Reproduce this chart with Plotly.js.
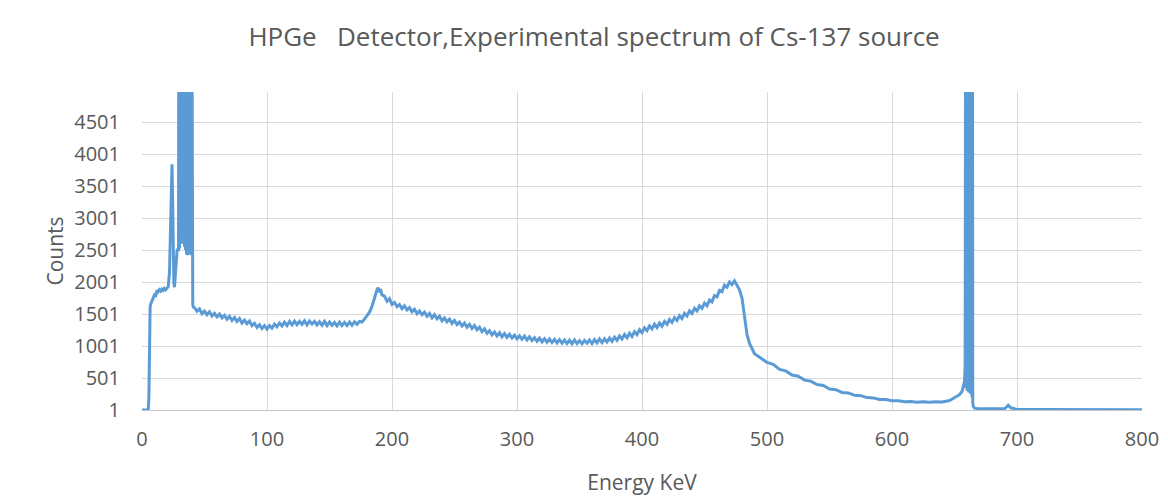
<!DOCTYPE html>
<html>
<head>
<meta charset="utf-8">
<script src="https://cdn.plot.ly/plotly-3.0.1.min.js"></script>
<style>html,body{margin:0;padding:0;background:#fff;}#chart{width:1168px;height:503px;}</style>
</head>
<body>
<div id="chart"></div>
<script>
// Energy (keV) and counts
const energyKeV = [
  0,2,4,5,5.5,6,6.5,7,8,9,10,11,12,13,14,15,16,17,18,19,20,21,22,22.5,23,23.5,24,24.5,25,25.5,26,27,28,28.5,
  29.2,29.6,30.0,30.4,30.8,31.2,31.6,32.0,32.4,32.8,33.2,33.6,34.0,34.4,34.8,35.2,35.6,36.0,36.4,36.8,37.2,37.6,38.0,38.4,38.8,39.2,39.6,40.0,40.6,41,
  42,44,46,48,50,52,54,56,58,60,
  62,64,66,68,70,72,74,76,78,80,
  82,84,86,88,90,92,94,96,98,100,
  102,104,106,108,110,112,114,116,118,120,
  122,124,126,128,130,132,134,136,138,140,
  142,144,146,148,150,152,154,156,158,160,
  162,164,166,168,170,172,174,176,178,180,
  182,184,186,187,188,189,190,191,192,194,
  196,198,200,202,204,206,208,210,212,214,
  216,218,220,222,224,226,228,230,232,234,
  236,238,240,242,244,246,248,250,252,254,
  256,258,260,262,264,266,268,270,272,274,
  276,278,280,282,284,286,288,290,292,294,
  296,298,300,302,304,306,308,310,312,314,
  316,318,320,322,324,326,328,330,332,334,
  336,338,340,342,344,346,348,350,352,354,
  356,358,360,362,364,366,368,370,372,374,
  376,378,380,382,384,386,388,390,392,394,
  396,398,400,402,404,406,408,410,412,414,
  416,418,420,422,424,426,428,430,432,434,
  436,438,440,442,444,446,448,450,452,454,
  456,458,460,462,464,466,468,470,472,474,
  476,478,480,482,484,486,488,490,493,496,
  500,505,510,515,520,525,530,535,540,545,
  550,555,560,565,570,575,580,585,590,595,
  600,605,610,615,620,625,630,635,640,646,
  650,654,656,657.5,658,658.5,659,659.3,659.6,660,
  660.3,660.6,661,661.3,661.6,662,662.3,662.6,663,663.3,
  663.6,664,664.3,664.6,665,666,668,675,685,690,
  692,693,695,698,700,720,750,780,800
];
const counts = [
  1,1,1,1,200,1300,1610,1660,1700,1760,1800,1790,1870,1850,1880,1860,1890,1870,1900,1880,1910,1930,2150,2600,3200,3600,3840,3300,2400,1980,1920,2300,2480,2520,
  2480,9000,2520,13000,2600,16000,2700,18000,2650,15000,2600,11000,2550,9000,2500,8000,2430,10000,2420,12000,2450,9000,2430,8000,2440,7000,2420,6000,1650,1610,
  1600,1545,1580,1505,1545,1490,1535,1470,1510,1455,
  1500,1440,1480,1420,1465,1400,1445,1385,1430,1360,
  1405,1350,1390,1320,1355,1290,1335,1275,1320,1265,
  1320,1280,1345,1300,1360,1315,1375,1320,1385,1330,
  1390,1335,1385,1340,1395,1330,1390,1345,1385,1330,
  1380,1325,1385,1320,1375,1325,1370,1315,1375,1320,
  1370,1320,1375,1325,1380,1340,1385,1375,1420,1470,
  1530,1620,1760,1840,1880,1910,1860,1870,1800,1780,
  1700,1740,1650,1680,1615,1650,1585,1630,1565,1600,
  1535,1575,1505,1550,1490,1530,1465,1510,1440,1490,
  1425,1465,1395,1440,1380,1420,1355,1400,1335,1375,
  1315,1360,1295,1340,1275,1320,1255,1295,1225,1270,
  1200,1240,1175,1220,1160,1210,1145,1195,1135,1185,
  1125,1170,1115,1160,1105,1155,1095,1145,1085,1130,
  1075,1125,1065,1115,1060,1110,1055,1105,1050,1100,
  1045,1095,1040,1090,1035,1095,1040,1085,1035,1090,
  1045,1095,1040,1100,1050,1110,1055,1115,1065,1125,
  1075,1140,1090,1160,1110,1180,1130,1200,1150,1225,
  1180,1255,1210,1285,1240,1315,1270,1340,1290,1360,
  1310,1385,1340,1415,1370,1445,1400,1475,1430,1510,
  1470,1550,1510,1590,1550,1630,1590,1670,1630,1720,
  1690,1790,1770,1870,1850,1950,1920,2000,1960,2020,
  1950,1880,1750,1450,1180,1040,950,880,840,800,
  745,715,635,612,548,528,468,452,398,383,
  328,318,275,268,232,225,195,190,165,164,
  145,145,130,134,121,129,121,131,126,150,
  190,240,290,400,450,700,8000,350,14000,300,
  20000,320,26000,280,30000,300,28000,260,22000,250,
  15000,200,8000,120,60,30,25,20,15,20,
  55,75,35,15,10,8,6,5,4
];
const yTickVals = [1,501,1001,1501,2001,2501,3001,3501,4001,4501];
const xTickVals = [0,100,200,300,400,500,600,700,800];

const trace = {
  x: energyKeV, y: counts, type: 'scatter', mode: 'lines',
  line: {color: '#5B9BD5', width: 3}, hoverinfo: 'x+y'
};
const font = 'Open Sans, sans-serif';
const layout = {
  width: 1168, height: 503,
  margin: {l: 142, r: 26, t: 92, b: 93},
  paper_bgcolor: '#ffffff', plot_bgcolor: '#ffffff',
  showlegend: false,
  title: {text: 'HPGe   Detector,Experimental spectrum of Cs-137 source',
          font: {family: font, size: 26, color: '#595959'},
          x: 0.5086, xref: 'container', xanchor: 'center', y: 0.9264, yref: 'container', yanchor: 'middle'},
  xaxis: {
    range: [0, 800], tickvals: xTickVals, ticktext: xTickVals.map(String),
    showgrid: true, gridcolor: '#d9d9d9', gridwidth: 1,
    zeroline: false, showline: true, linecolor: '#c8c8c8', linewidth: 1,
    ticks: '', ticklabelstandoff: 11,
    tickfont: {family: font, size: 20, color: '#595959'},
    title: {text: 'Energy KeV', font: {family: font, size: 21, color: '#595959'}, standoff: 24}
  },
  yaxis: {
    range: [1, 4970], tickvals: yTickVals, ticktext: yTickVals.map(String),
    showgrid: true, gridcolor: '#d9d9d9', gridwidth: 1,
    zeroline: false, showline: false,
    ticks: '', ticklabelstandoff: 21,
    tickfont: {family: font, size: 20, color: '#595959'},
    title: {text: 'Counts', font: {family: font, size: 21, color: '#595959'}, standoff: 4}
  }
};
Plotly.newPlot('chart', [trace], layout, {displayModeBar: false, staticPlot: true});
</script>
</body>
</html>
